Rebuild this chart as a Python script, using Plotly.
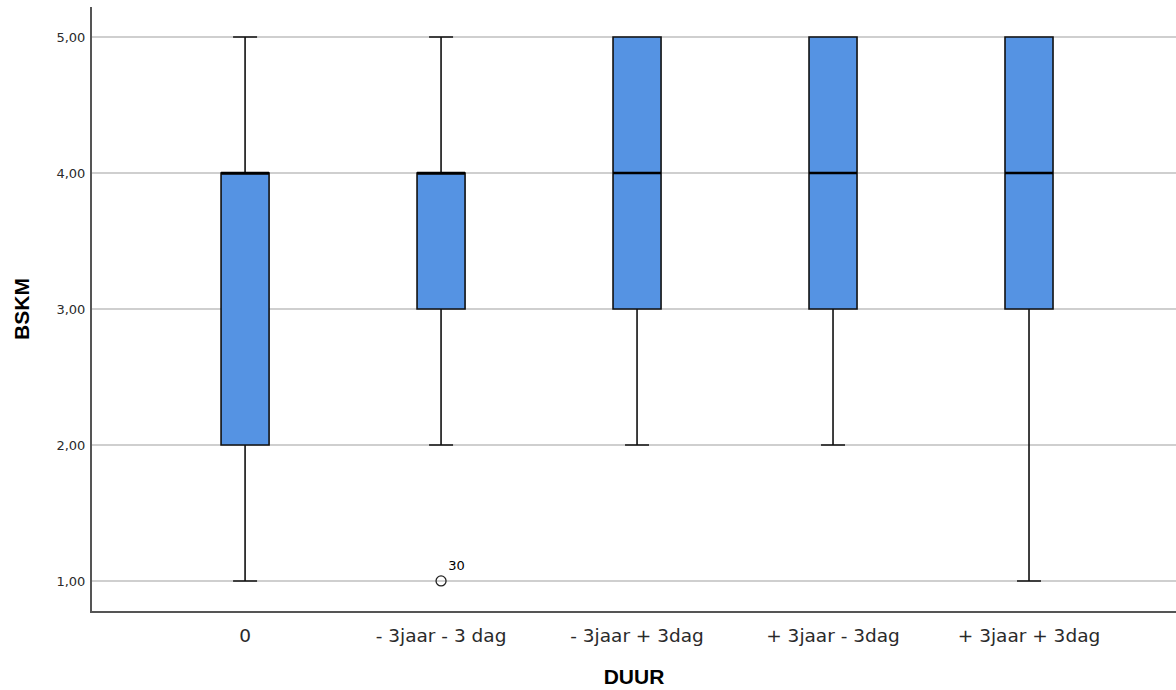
import plotly.graph_objects as go

categories = ["0", "- 3jaar - 3 dag", "- 3jaar + 3dag", "+ 3jaar - 3dag", "+ 3jaar + 3dag"]
lower = [1, 2, 2, 2, 1]
q1 = [2, 3, 3, 3, 3]
median = [4, 4, 4, 4, 4]
q3 = [4, 4, 5, 5, 5]
upper = [5, 5, 5, 5, 5]
outlier_cat = [1]
outlier_val = [1]
outlier_lbl = ["30"]
ytick_vals = [1, 2, 3, 4, 5]
ytick_text = ["1,00", "2,00", "3,00", "4,00", "5,00"]

pos = list(range(len(categories)))

fig = go.Figure()
fig.add_trace(go.Box(
    x=pos, q1=q1, median=median, q3=q3, lowerfence=lower, upperfence=upper,
    width=0.245, whiskerwidth=0.5,
    fillcolor="#5593E3", line=dict(color="#111111", width=1.6),
    boxpoints=False, showlegend=False, hoverinfo="skip",
))
# thicker median bars (SPSS style)
fig.add_trace(go.Box(
    x=pos, q1=median, median=median, q3=median, lowerfence=median, upperfence=median,
    width=0.245, whiskerwidth=0,
    fillcolor="rgba(0,0,0,0)", line=dict(color="#000000", width=2.6),
    boxpoints=False, showlegend=False, hoverinfo="skip",
))
fig.add_trace(go.Scatter(
    x=outlier_cat, y=outlier_val, mode="markers+text", text=outlier_lbl,
    textposition="top right", textfont=dict(size=13, color="#000000", family="DejaVu Sans"),
    marker=dict(symbol="circle-open", size=10, color="#222222", line=dict(width=1.3)),
    showlegend=False, hoverinfo="skip",
))

fig.update_layout(
    width=1176, height=690,
    margin=dict(l=92, r=0, t=7, b=79),
    paper_bgcolor="white", plot_bgcolor="white",
    font=dict(family="DejaVu Sans", color="#000000"),
    boxmode="overlay",
)
fig.update_xaxes(
    range=[-0.781, 4.75], tickvals=pos, ticktext=categories, automargin=False,
    tickfont=dict(size=18.5, color="#2a2a2a", family="DejaVu Sans"), showgrid=False, zeroline=False,
    showline=True, linecolor="#555555", linewidth=2, ticks="", ticklabelstandoff=7,
    title=dict(text="<b>DUUR</b>", font=dict(size=21, family="Arial"), standoff=24),
)
fig.update_yaxes(
    range=[0.779, 5.221], tickvals=ytick_vals, ticktext=ytick_text, automargin=False,
    tickfont=dict(size=13, color="#2a2a2a", family="DejaVu Sans"), showgrid=True, gridcolor="#cfcfcf", gridwidth=1.5,
    zeroline=False, showline=True, linecolor="#555555", linewidth=2, ticks="", ticklabelstandoff=2,
    title=dict(text="<b>BSKM</b>", font=dict(size=21, family="Arial"), standoff=21),
)

fig.write_html("out.html", config={"displayModeBar": False},
               post_script="document.body.style.margin='0';document.body.style.overflow='hidden';")
